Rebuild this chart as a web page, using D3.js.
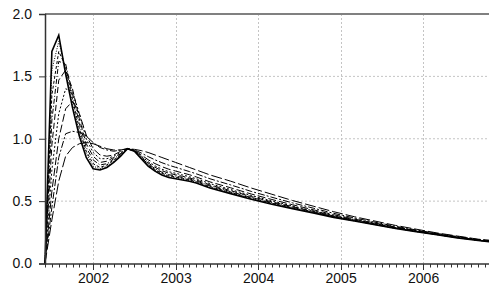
<!DOCTYPE html>
<html><head><meta charset="utf-8">
<script src="https://cdn.jsdelivr.net/npm/d3@7"></script>
<style>
html,body{margin:0;padding:0;background:#fff;}
svg{display:block;}
text{font-family:"Liberation Sans",Arial,sans-serif;font-size:14px;fill:#111;}
</style></head>
<body>
<script>
// Periods (monthly, start 2001M06); tail sampled quarterly
const periods = ["2001-06","2001-07","2001-08","2001-09","2001-10","2001-11","2001-12",
 "2002-01","2002-02","2002-03","2002-04","2002-05","2002-06","2002-07","2002-08","2002-09",
 "2002-10","2002-11","2002-12","2003-01","2003-02","2003-03","2003-04","2003-05","2003-06",
 "2003-09","2003-12","2004-03","2004-06","2004-09","2004-12","2005-03","2005-06","2005-09",
 "2005-12","2006-03","2006-06","2006-09","2006-12"];

const s0 = [0,1.70,1.83,1.52,1.25,1.02,0.85,0.76,0.75,0.77,0.81,0.86,0.92,
 .90,.84,.78,.74,.71,.69,.68,.67,.66,.645,.625,.605,
 .56,.515,.475,.44,.405,.37,.34,.31,.28,.255,.23,.205,.185,.165];
const s1 = [0,1.55,1.78,1.55,1.28,1.05,0.88,0.78,0.76,0.78,0.82,0.87,0.92,
 .901,.843,.786,.747,.717,.697,.687,.676,.666,.65,.63,.61,
 .565,.52,.479,.443,.408,.372,.342,.312,.281,.256,.231,.206,.186,.166];
const s2 = [0,1.35,1.70,1.58,1.32,1.08,0.90,0.80,0.77,0.79,0.83,0.87,0.92,
 .902,.847,.791,.753,.724,.704,.693,.682,.671,.656,.636,.616,
 .57,.524,.483,.447,.411,.375,.344,.313,.283,.257,.232,.207,.186,.167];
const s3 = [0,1.15,1.62,1.60,1.36,1.12,0.93,0.83,0.79,0.80,0.84,0.88,0.92,
 .902,.85,.798,.761,.732,.712,.701,.689,.678,.662,.642,.622,
 .576,.529,.488,.45,.414,.377,.346,.315,.284,.258,.232,.207,.187,.167];
const s4 = [0,0.95,1.47,1.55,1.40,1.16,0.96,0.86,0.81,0.82,0.85,0.88,0.92,
 .904,.856,.806,.771,.744,.724,.711,.699,.686,.67,.65,.63,
 .584,.537,.494,.456,.418,.381,.348,.317,.286,.26,.234,.209,.187,.169];
const s5 = [0,0.75,1.20,1.40,1.38,1.20,1.00,0.89,0.84,0.84,0.86,0.89,0.92,
 .905,.861,.816,.783,.756,.736,.723,.71,.696,.68,.66,.64,
 .593,.545,.501,.461,.423,.385,.352,.32,.288,.262,.235,.21,.188,.17];
const s6 = [0,0.58,1.00,1.24,1.30,1.20,1.03,0.92,0.87,0.86,0.87,0.90,0.92,
 .907,.871,.832,.801,.776,.756,.741,.726,.712,.694,.674,.654,
 .607,.557,.513,.471,.431,.391,.356,.324,.292,.264,.237,.212,.19,.172];
const s7 = [0,0.45,0.85,1.04,1.06,1.05,1.02,0.97,0.93,0.91,0.90,0.91,0.92,
 .911,.886,.857,.831,.808,.788,.771,.754,.737,.719,.699,.679,
 .63,.578,.531,.486,.444,.402,.365,.331,.298,.269,.241,.216,.192,.176];
const s8 = [0,0.35,0.66,0.86,0.93,0.96,0.97,0.96,0.94,0.92,0.91,0.91,0.92,
 .915,.905,.89,.87,.85,.83,.81,.79,.77,.75,.73,.71,
 .66,.605,.555,.505,.46,.415,.375,.34,.305,.275,.245,.22,.195,.18];

const seriesList = [s0,s1,s2,s3,s4,s5,s6,s7,s8];
const dashes = [null,"1,1.5","3,2","5,2,1,2","6,3","2,2","8,3","7,2,2,2","11,3"];
const yTicks = [0,0.5,1.0,1.5,2.0];
const yearLabels = ["2002","2003","2004","2005","2006"];

const W=489,H=293;
const mIdx = s => { const [y,m]=s.split("-").map(Number); return (y-2001)*12+(m-6); };
const lastIdx = 66;

const x = d3.scaleLinear().domain([0,lastIdx]).range([45,45+lastIdx*6.875]);
const y = d3.scaleLinear().domain([0,2]).range([263.5,14]);

const svg = d3.select("body").append("svg").attr("width",W).attr("height",H);

// grid
const gridCol="#c4c4c4";
svg.append("g").selectAll("line").data(yTicks.filter(v=>v>0&&v<2)).join("line")
 .attr("x1",45).attr("x2",W).attr("y1",d=>y(d)).attr("y2",d=>y(d))
 .attr("stroke",gridCol).attr("stroke-width",1).attr("stroke-dasharray","2,2");
const yearIdx = yearLabels.map(l=>mIdx(l+"-01"));
svg.append("g").selectAll("line").data(yearIdx).join("line")
 .attr("x1",d=>Math.round(x(d))+0.5).attr("x2",d=>Math.round(x(d))+0.5).attr("y1",14).attr("y2",263.5)
 .attr("stroke",gridCol).attr("stroke-width",1).attr("stroke-dasharray","2,2");

// top frame
svg.append("line").attr("x1",45).attr("x2",W).attr("y1",14).attr("y2",14)
 .attr("stroke","#808080").attr("stroke-width",2);

// lines
const line = d3.line().x((d,i)=>x(mIdx(periods[i]))).y(d=>y(d));
const g = svg.append("g");
seriesList.slice().reverse().forEach((s,ri)=>{
  const k = seriesList.length-1-ri;
  g.append("path").datum(s).attr("d",line).attr("fill","none")
   .attr("stroke","#000").attr("stroke-width",k===0?1.6:1)
   .attr("stroke-dasharray",dashes[k]).attr("stroke-linejoin","miter");
});

// y axis
const yAxis = d3.axisLeft(y).tickValues(yTicks).tickFormat(d3.format(".1f")).tickSize(6).tickPadding(7);
const ya = svg.append("g").attr("transform","translate(45,0)").call(yAxis);
ya.select(".domain").attr("stroke","#333").attr("stroke-width",1.5);
ya.selectAll(".tick line").attr("stroke","#333");
ya.selectAll("text").style("font-size","14px").attr("fill","#111");

// x axis: monthly minor ticks, year ticks longer
const xa = svg.append("g");
xa.append("line").attr("x1",45).attr("x2",W).attr("y1",264).attr("y2",264).attr("stroke","#333").attr("stroke-width",1.5);
const monthTicks = d3.range(0,lastIdx+1);
xa.selectAll("line.m").data(monthTicks).join("line").attr("class","m")
 .attr("x1",d=>Math.round(x(d))+0.5).attr("x2",d=>Math.round(x(d))+0.5)
 .attr("y1",264).attr("y2",d=> yearIdx.includes(d)?270:267.5)
 .attr("stroke","#333").attr("stroke-width",1);
xa.selectAll("text").data(yearLabels).join("text")
 .attr("x",d=>x(mIdx(d+"-01"))+0.5).attr("y",283).attr("text-anchor","middle").text(d=>d);
</script>
</body></html>
